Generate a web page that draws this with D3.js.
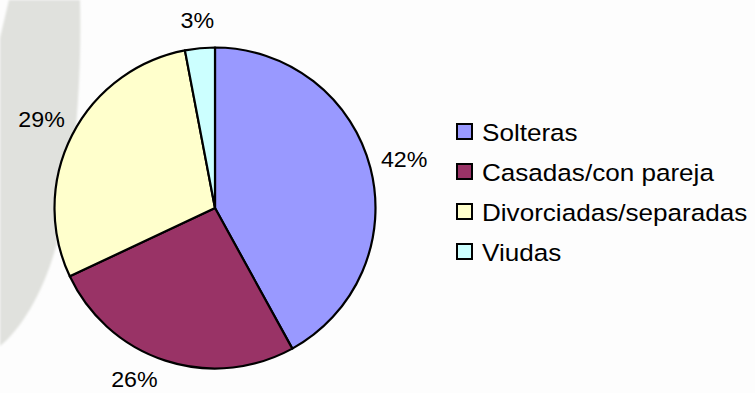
<!DOCTYPE html>
<html>
<head>
<meta charset="utf-8">
<script src="https://cdn.jsdelivr.net/npm/d3@7"></script>
<style>
  html, body { margin: 0; padding: 0; background: #fdfdfd; }
  svg { display: block; }
  text { font-family: "Liberation Sans", Arial, sans-serif; fill: #000; }
</style>
</head>
<body>
<svg id="chart" width="755" height="393"></svg>
<script>
// Estado civil: share of each group (percent)
const categories = ["Solteras", "Casadas/con pareja", "Divorciadas/separadas", "Viudas"];
const values = [42, 26, 29, 3];
const colors = ["#9999FF", "#993366", "#FFFFCC", "#CCFFFF"];

const W = 755, H = 393;
const svg = d3.select("#chart");

// soft grey decorative band along the left edge
const defs = svg.append("defs");
defs.append("filter").attr("id", "soft")
  .append("feGaussianBlur").attr("stdDeviation", 1.2);
svg.append("rect").attr("width", W).attr("height", H).attr("fill", "#fdfdfd");
svg.append("path")
  .attr("d", "M9,0 L80,0 C82,80 75,180 55,250 C42,295 20,330 0,346 L0,38 Z")
  .attr("fill", "#e0e1dd")
  .attr("filter", "url(#soft)");

// pie
const cx = 215, cy = 208, r = 160.5;
const pie = d3.pie().sort(null).value(d => d.v);
const arcs = pie(categories.map((c, i) => ({ c, v: values[i], col: colors[i] })));
const arc = d3.arc().innerRadius(0).outerRadius(r);

const g = svg.append("g").attr("transform", `translate(${cx},${cy})`);
g.selectAll("path.slice").data(arcs).enter().append("path")
  .attr("class", "slice")
  .attr("d", arc)
  .attr("fill", d => d.data.col)
  .attr("stroke", "#000")
  .attr("stroke-width", 2.2)
  .attr("stroke-linejoin", "round");

// percentage labels outside each slice, kept inside the drawing area
const fmt = d => d3.format(".0f")(d.data.v) + "%";
const maxY = H - 13 - cy;
g.selectAll("text.pct").data(arcs).enter().append("text")
  .attr("class", "pct")
  .attr("text-anchor", "middle")
  .attr("dominant-baseline", "central")
  .style("font-size", "21.5px")
  .attr("transform", d => {
    const mid = (d.startAngle + d.endAngle) / 2;
    let a = mid;
    const lr = r + 27 + 8 * Math.abs(Math.sin(a));
    let y = -lr * Math.cos(a);
    if (y > maxY) {
      // slide along the circle, away from the bottom, until the label fits
      const a0 = Math.acos(-maxY / lr);
      a = mid < Math.PI ? a0 : 2 * Math.PI - a0;
      y = -lr * Math.cos(a);
    }
    const x = lr * Math.sin(a);
    return `translate(${x},${y}) scale(1.08,1)`;
  })
  .text(fmt);

// legend
const lg = svg.append("g").attr("transform", "translate(456,123)");
const rows = lg.selectAll("g").data(categories).enter().append("g")
  .attr("transform", (d, i) => `translate(0,${i * 40})`);
rows.append("rect")
  .attr("x", 1).attr("y", 1).attr("width", 15).attr("height", 15)
  .attr("fill", (d, i) => colors[i])
  .attr("stroke", "#000").attr("stroke-width", 2);
rows.append("text")
  .attr("transform", "translate(26,18) scale(1.11,1)")
  .style("font-size", "23.5px")
  .text(d => d);
</script>
</body>
</html>
